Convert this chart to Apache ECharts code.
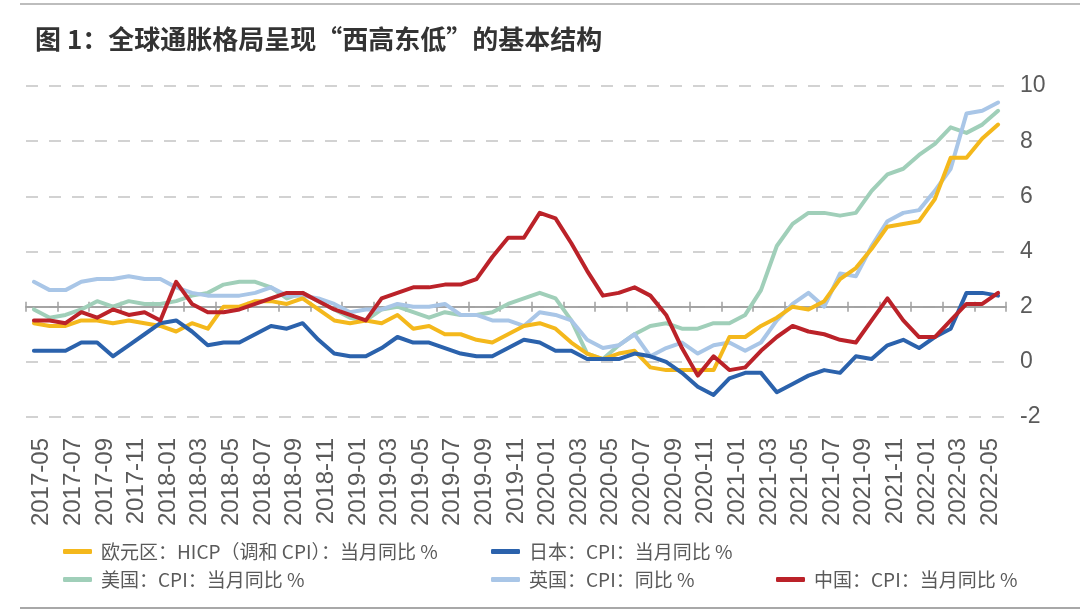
<!DOCTYPE html>
<html>
<head>
<meta charset="utf-8">
<script src="https://cdn.jsdelivr.net/npm/echarts@6/dist/echarts.min.js"></script>
<style>
html,body{margin:0;padding:0;background:#fff;}
#chart{width:1080px;height:612px;}
</style>
</head>
<body>
<div id="chart"></div>
<script>
const titleText = '图 1：全球通胀格局呈现“西高东低”的基本结构';

const months = [
 '2017-05','2017-06','2017-07','2017-08','2017-09','2017-10','2017-11','2017-12',
 '2018-01','2018-02','2018-03','2018-04','2018-05','2018-06','2018-07','2018-08','2018-09','2018-10','2018-11','2018-12',
 '2019-01','2019-02','2019-03','2019-04','2019-05','2019-06','2019-07','2019-08','2019-09','2019-10','2019-11','2019-12',
 '2020-01','2020-02','2020-03','2020-04','2020-05','2020-06','2020-07','2020-08','2020-09','2020-10','2020-11','2020-12',
 '2021-01','2021-02','2021-03','2021-04','2021-05','2021-06','2021-07','2021-08','2021-09','2021-10','2021-11','2021-12',
 '2022-01','2022-02','2022-03','2022-04','2022-05','2022-06'
];

const tickLabels = [
 '2017-05','2017-07','2017-09','2017-11',
 '2018-01','2018-03','2018-05','2018-07','2018-09','2018-11',
 '2019-01','2019-03','2019-05','2019-07','2019-09','2019-11',
 '2020-01','2020-03','2020-05','2020-07','2020-09','2020-11',
 '2021-01','2021-03','2021-05','2021-07','2021-09','2021-11',
 '2022-01','2022-03','2022-05'
];

const yTicks = { min: -2, max: 10, interval: 2 };

const seriesNames = {
  ez: '欧元区：HICP（调和 CPI）：当月同比 %',
  jp: '日本：CPI：当月同比 %',
  us: '美国：CPI：当月同比 %',
  uk: '英国：CPI：同比 %',
  cn: '中国：CPI：当月同比 %'
};

const euroHicp = [
 1.4,1.3,1.3,1.5,1.5,1.4,1.5,1.4,
 1.3,1.1,1.4,1.2,2.0,2.0,2.2,2.2,2.1,2.3,1.9,1.5,
 1.4,1.5,1.4,1.7,1.2,1.3,1.0,1.0,0.8,0.7,1.0,1.3,
 1.4,1.2,0.7,0.3,0.1,0.3,0.4,-0.2,-0.3,-0.3,-0.3,-0.3,
 0.9,0.9,1.3,1.6,2.0,1.9,2.2,3.0,3.4,4.1,4.9,5.0,
 5.1,5.9,7.4,7.4,8.1,8.6
];

const japanCpi = [
 0.4,0.4,0.4,0.7,0.7,0.2,0.6,1.0,
 1.4,1.5,1.1,0.6,0.7,0.7,1.0,1.3,1.2,1.4,0.8,0.3,
 0.2,0.2,0.5,0.9,0.7,0.7,0.5,0.3,0.2,0.2,0.5,0.8,
 0.7,0.4,0.4,0.1,0.1,0.1,0.3,0.2,0.0,-0.4,-0.9,-1.2,
 -0.6,-0.4,-0.4,-1.1,-0.8,-0.5,-0.3,-0.4,0.2,0.1,0.6,0.8,
 0.5,0.9,1.2,2.5,2.5,2.4
];

const usCpi = [
 1.9,1.6,1.7,1.9,2.2,2.0,2.2,2.1,
 2.1,2.2,2.4,2.5,2.8,2.9,2.9,2.7,2.3,2.5,2.2,1.9,
 1.6,1.5,1.9,2.0,1.8,1.6,1.8,1.7,1.7,1.8,2.1,2.3,
 2.5,2.3,1.5,0.3,0.1,0.6,1.0,1.3,1.4,1.2,1.2,1.4,
 1.4,1.7,2.6,4.2,5.0,5.4,5.4,5.3,5.4,6.2,6.8,7.0,
 7.5,7.9,8.5,8.3,8.6,9.1
];

const ukCpi = [
 2.9,2.6,2.6,2.9,3.0,3.0,3.1,3.0,
 3.0,2.7,2.5,2.4,2.4,2.4,2.5,2.7,2.4,2.4,2.3,2.1,
 1.8,1.9,1.9,2.1,2.0,2.0,2.1,1.7,1.7,1.5,1.5,1.3,
 1.8,1.7,1.5,0.8,0.5,0.6,1.0,0.2,0.5,0.7,0.3,0.6,
 0.7,0.4,0.7,1.5,2.1,2.5,2.0,3.2,3.1,4.2,5.1,5.4,
 5.5,6.2,7.0,9.0,9.1,9.4
];

const chinaCpi = [
 1.5,1.5,1.4,1.8,1.6,1.9,1.7,1.8,
 1.5,2.9,2.1,1.8,1.8,1.9,2.1,2.3,2.5,2.5,2.2,1.9,
 1.7,1.5,2.3,2.5,2.7,2.7,2.8,2.8,3.0,3.8,4.5,4.5,
 5.4,5.2,4.3,3.3,2.4,2.5,2.7,2.4,1.7,0.5,-0.5,0.2,
 -0.3,-0.2,0.4,0.9,1.3,1.1,1.0,0.8,0.7,1.5,2.3,1.5,
 0.9,0.9,1.5,2.1,2.1,2.5
];

const colors = { ez:'#F4B81C', jp:'#2B62AC', us:'#A0CFB9', uk:'#A9C6E7', cn:'#BB2229' };

const chart = echarts.init(document.getElementById('chart'), null, {renderer:'canvas'});

const cjk = '"Noto Sans CJK SC", "Noto Sans", sans-serif';
const textColor = '#5a5a5a';

function lineSeries(key, data) {
  return {
    name: seriesNames[key], type: 'line', data: data,
    xAxisIndex: 0, yAxisIndex: 0,
    symbol: 'none', smooth: false,
    lineStyle: { width: 4, color: colors[key], cap: 'round', join: 'round' },
    itemStyle: { color: colors[key] },
    emphasis: { disabled: true },
    animation: false
  };
}

function legendAt(key, left, top) {
  return {
    data: [seriesNames[key]], left: left, top: top,
    icon: 'roundRect', itemWidth: 29, itemHeight: 5,
    padding: 0, selectedMode: false,
    textStyle: { fontFamily: cjk, fontSize: 19, color: textColor, padding: [0, 0, 0, 4] }
  };
}

const catAxisBase = {
  type: 'category', gridIndex: 0, boundaryGap: true,
  splitLine: { show: false }
};

chart.setOption({
  backgroundColor: '#ffffff',
  animation: false,
  title: {
    text: titleText, left: 30, top: 21,
    textStyle: { fontFamily: cjk, fontSize: 26, fontWeight: 'bold', color: '#333333' }
  },
  grid: { left: 26, right: 74, top: 86, bottom: 195 },
  legend: [
    legendAt('ez', 63, 542),
    legendAt('jp', 491, 542),
    legendAt('us', 63, 570),
    legendAt('uk', 491, 570),
    legendAt('cn', 776, 570)
  ],
  xAxis: [
    Object.assign({}, catAxisBase, {
      data: months,
      axisLine: { show: false, onZero: false },
      axisTick: { show: false }, axisLabel: { show: false }
    }),
    Object.assign({}, catAxisBase, {
      data: tickLabels, position: 'bottom',
      axisLine: { show: false, onZero: false },
      axisTick: { show: false },
      axisLabel: {
        interval: 0, rotate: 90, margin: 21,
        fontFamily: '"Liberation Sans Narrow", "Liberation Sans", Arial, sans-serif',
        fontSize: 24, color: textColor
      }
    }),
    Object.assign({}, catAxisBase, {
      data: tickLabels,
      axisLine: { show: true, onZero: true, onZeroAxisIndex: 1, lineStyle: { color: '#a0a0a0', width: 1.5 } },
      axisTick: { show: true, interval: 0, inside: false, length: 5, lineStyle: { color: '#a0a0a0', width: 1.5 } },
      axisLabel: { show: false }
    }),
    Object.assign({}, catAxisBase, {
      data: tickLabels,
      axisLine: { show: true, onZero: true, onZeroAxisIndex: 1, lineStyle: { color: '#a0a0a0', width: 1.5 } },
      axisTick: { show: true, interval: 0, inside: true, length: 5, lineStyle: { color: '#a0a0a0', width: 1.5 } },
      axisLabel: { show: false }
    })
  ],
  yAxis: [
    {
      type: 'value', position: 'right', gridIndex: 0,
      min: yTicks.min, max: yTicks.max, interval: yTicks.interval,
      axisLine: { show: false }, axisTick: { show: false },
      axisLabel: {
        margin: 14, fontFamily: '"Liberation Sans", Arial, sans-serif',
        fontSize: 23, color: textColor
      },
      splitLine: { show: true, lineStyle: { color: '#c4c4c4', width: 1.5, type: [12, 11] } }
    },
    {
      type: 'value', position: 'right', gridIndex: 0,
      min: yTicks.min - 2, max: yTicks.max - 2, interval: yTicks.interval,
      show: false, splitLine: { show: false }
    }
  ],
  series: [
    lineSeries('us', usCpi),
    lineSeries('uk', ukCpi),
    lineSeries('ez', euroHicp),
    lineSeries('jp', japanCpi),
    lineSeries('cn', chinaCpi)
  ],
  graphic: [
    { type: 'line', shape: { x1: 20, y1: 4, x2: 1080, y2: 4 }, style: { stroke: '#bdbdbd', lineWidth: 2 }, silent: true },
    { type: 'line', shape: { x1: 20, y1: 608, x2: 1080, y2: 608 }, style: { stroke: '#a8a8a8', lineWidth: 2 }, silent: true }
  ]
});
</script>
</body>
</html>
